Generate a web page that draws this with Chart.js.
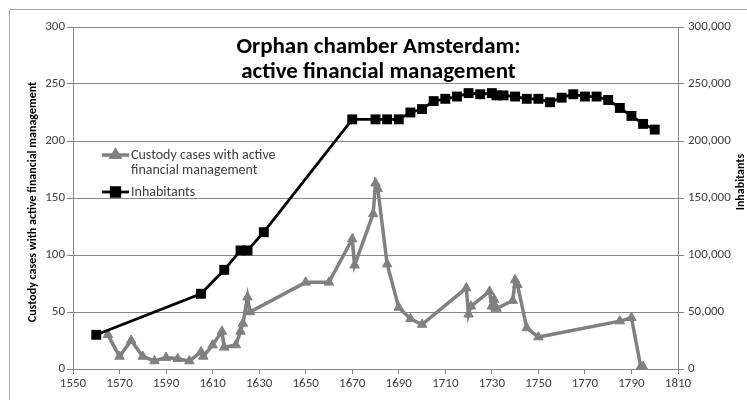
<!DOCTYPE html>
<html><head><meta charset="utf-8">
<script src="https://cdn.jsdelivr.net/npm/chart.js@4/dist/chart.umd.min.js"></script>
<style>html,body{margin:0;padding:0;background:#fff}canvas{display:block}</style>
</head><body>
<canvas id="c" width="747" height="400"></canvas>
<script>
// ---- data ----
const custodyYears = [1565,1570,1575,1580,1585,1590,1595,1600,1605,1606,1610,1614,1615,1620,1622,1623,1625,1626,1650,1660,1670,1671,1679,1680,1681,1685,1690,1695,1700,1719,1720,1721,1729,1730,1731,1732,1739,1740,1741,1745,1750,1785,1790,1794,1795];
const custodyCases = [30,11,25,11,7,10,9,7,15,11,21,33,19,21,33,40,63,50,76,76,114,91,136,163,158,92,54,44,39,71,48,55,68,55,61,53,60,78,74,36,28,42,45,2,2];
const inhabitantYears = [1560,1605,1615,1622,1625,1632,1670,1680,1685,1690,1695,1700,1705,1710,1715,1720,1725,1730,1732,1735,1740,1745,1750,1755,1760,1765,1770,1775,1780,1785,1790,1795,1800];
const inhabitants = [30000,66000,87000,104000,104000,120000,219000,219000,219000,219000,225000,228000,235000,237000,239000,242000,241000,242000,240000,240000,239000,237000,237000,234000,238000,241000,239000,239000,236000,229000,222000,215000,210000];
const yearTicks = [1550,1570,1590,1610,1630,1650,1670,1690,1710,1730,1750,1770,1790,1810];
const leftTicks = [0,50,100,150,200,250,300];
const rightTicks = [0,50000,100000,150000,200000,250000,300000];
const titleLines = ['Orphan chamber Amsterdam:','active financial management'];
const leftAxisTitle = 'Custody cases with active financial management';
const rightAxisTitle = 'Inhabitants';
const custodyLabel = 'Custody cases with active financial management';
const inhabitantsLabel = 'Inhabitants';

const FONT = 'Carlito, Lato, "Open Sans", sans-serif';
const GRAY = '#808080';
const TXT = '#404040';

const toPts = (xs, ys) => xs.map((x, i) => ({x: x, y: ys[i]}));

const overlay = {
  id: 'overlay',
  beforeDraw(chart) {
    const ctx = chart.ctx;
    ctx.save();
    ctx.strokeStyle = '#a6a6a6';
    ctx.lineWidth = 1;
    ctx.beginPath();
    ctx.moveTo(9.5, 400); ctx.lineTo(9.5, 9.5); ctx.lineTo(747, 9.5);
    ctx.stroke();
    ctx.restore();
  },
  afterDraw(chart) {
    const ctx = chart.ctx;
    const a = chart.chartArea;
    ctx.save();
    // title
    ctx.fillStyle = '#000';
    ctx.font = 'bold 23px ' + FONT;
    ctx.textAlign = 'center';
    ctx.textBaseline = 'middle';
    const cx = (a.left + a.right) / 2 + 3;
    ctx.fillText(titleLines[0], cx, 47);
    ctx.fillText(titleLines[1], cx, 72);
    // axis titles
    ctx.font = 'bold 12px ' + FONT;
    ctx.save();
    ctx.translate(33, 202);
    ctx.rotate(-Math.PI / 2);
    ctx.fillText(leftAxisTitle, 0, 0);
    ctx.restore();
    ctx.save();
    ctx.translate(741, 182);
    ctx.rotate(-Math.PI / 2);
    ctx.fillText(rightAxisTitle, 0, 0);
    ctx.restore();
    // legend
    ctx.font = '14px ' + FONT;
    ctx.textAlign = 'left';
    const items = [
      {ds: chart.data.datasets[0], lines: ['Custody cases with active', 'financial management'], y: 155},
      {ds: chart.data.datasets[1], lines: [inhabitantsLabel], y: 192}
    ];
    items.forEach(it => {
      ctx.strokeStyle = it.ds.borderColor;
      ctx.lineWidth = it.ds.borderWidth;
      ctx.beginPath();
      ctx.moveTo(102, it.y); ctx.lineTo(129, it.y);
      ctx.stroke();
      ctx.fillStyle = it.ds.pointBackgroundColor;
      ctx.strokeStyle = it.ds.pointBorderColor;
      Chart.helpers.drawPoint(ctx, {pointStyle: it.ds.pointStyle, radius: it.ds.pointRadius - 1, borderWidth: 1, rotation: 0}, 115.5, it.y);
      ctx.fillStyle = TXT;
      it.lines.forEach((t, k) => ctx.fillText(t, 131, it.y + k * 15));
    });
    ctx.restore();
  }
};

new Chart(document.getElementById('c'), {
  type: 'scatter',
  data: {
    datasets: [
      {
        label: custodyLabel,
        data: toPts(custodyYears, custodyCases),
        yAxisID: 'y',
        showLine: true,
        borderColor: GRAY,
        borderWidth: 3.5,
        pointStyle: 'triangle',
        pointRadius: 5.5,
        pointBackgroundColor: GRAY,
        pointBorderColor: GRAY,
        pointBorderWidth: 1,
        tension: 0,
        order: 2
      },
      {
        label: inhabitantsLabel,
        data: toPts(inhabitantYears, inhabitants),
        yAxisID: 'y2',
        showLine: true,
        borderColor: '#000',
        borderWidth: 2.8,
        pointStyle: 'rect',
        pointRadius: 7,
        pointBackgroundColor: '#000',
        pointBorderColor: '#000',
        pointBorderWidth: 0,
        tension: 0,
        order: 1
      }
    ]
  },
  options: {
    responsive: false,
    animation: false,
    devicePixelRatio: 1,
    layout: {padding: {top: 27, left: 0, right: 0, bottom: 0}},
    plugins: {legend: {display: false}, tooltip: {enabled: false}, title: {display: false}},
    scales: {
      x: {
        type: 'linear',
        min: 1550, max: 1810,
        afterBuildTicks: s => { s.ticks = yearTicks.map(v => ({value: v})); },
        afterFit: s => { s.height = 31; },
        grid: {display: true, drawOnChartArea: false, drawTicks: true, tickLength: 5, color: '#868686'},
        border: {display: true, color: '#868686', width: 1},
        ticks: {color: TXT, font: {family: FONT, size: 13}, padding: 2, maxRotation: 0, autoSkip: false, callback: v => String(v)}
      },
      y: {
        position: 'left',
        min: 0, max: 300,
        afterBuildTicks: s => { s.ticks = leftTicks.map(v => ({value: v})); },
        afterFit: s => { s.width = 73; },
        grid: {display: true, drawOnChartArea: true, drawTicks: true, tickLength: 6, color: '#868686'},
        border: {display: true, color: '#868686', width: 1},
        ticks: {color: TXT, font: {family: FONT, size: 13}, padding: 2, callback: v => String(v)}
      },
      y2: {
        position: 'right',
        min: 0, max: 300000,
        afterBuildTicks: s => { s.ticks = rightTicks.map(v => ({value: v})); },
        afterFit: s => { s.width = 69; },
        grid: {display: true, drawOnChartArea: false, drawTicks: true, tickLength: 6, color: '#868686'},
        border: {display: true, color: '#868686', width: 1},
        ticks: {color: TXT, font: {family: FONT, size: 13}, padding: 4, callback: v => v.toLocaleString('en-US')}
      }
    }
  },
  plugins: [overlay]
});
</script>
</body></html>
